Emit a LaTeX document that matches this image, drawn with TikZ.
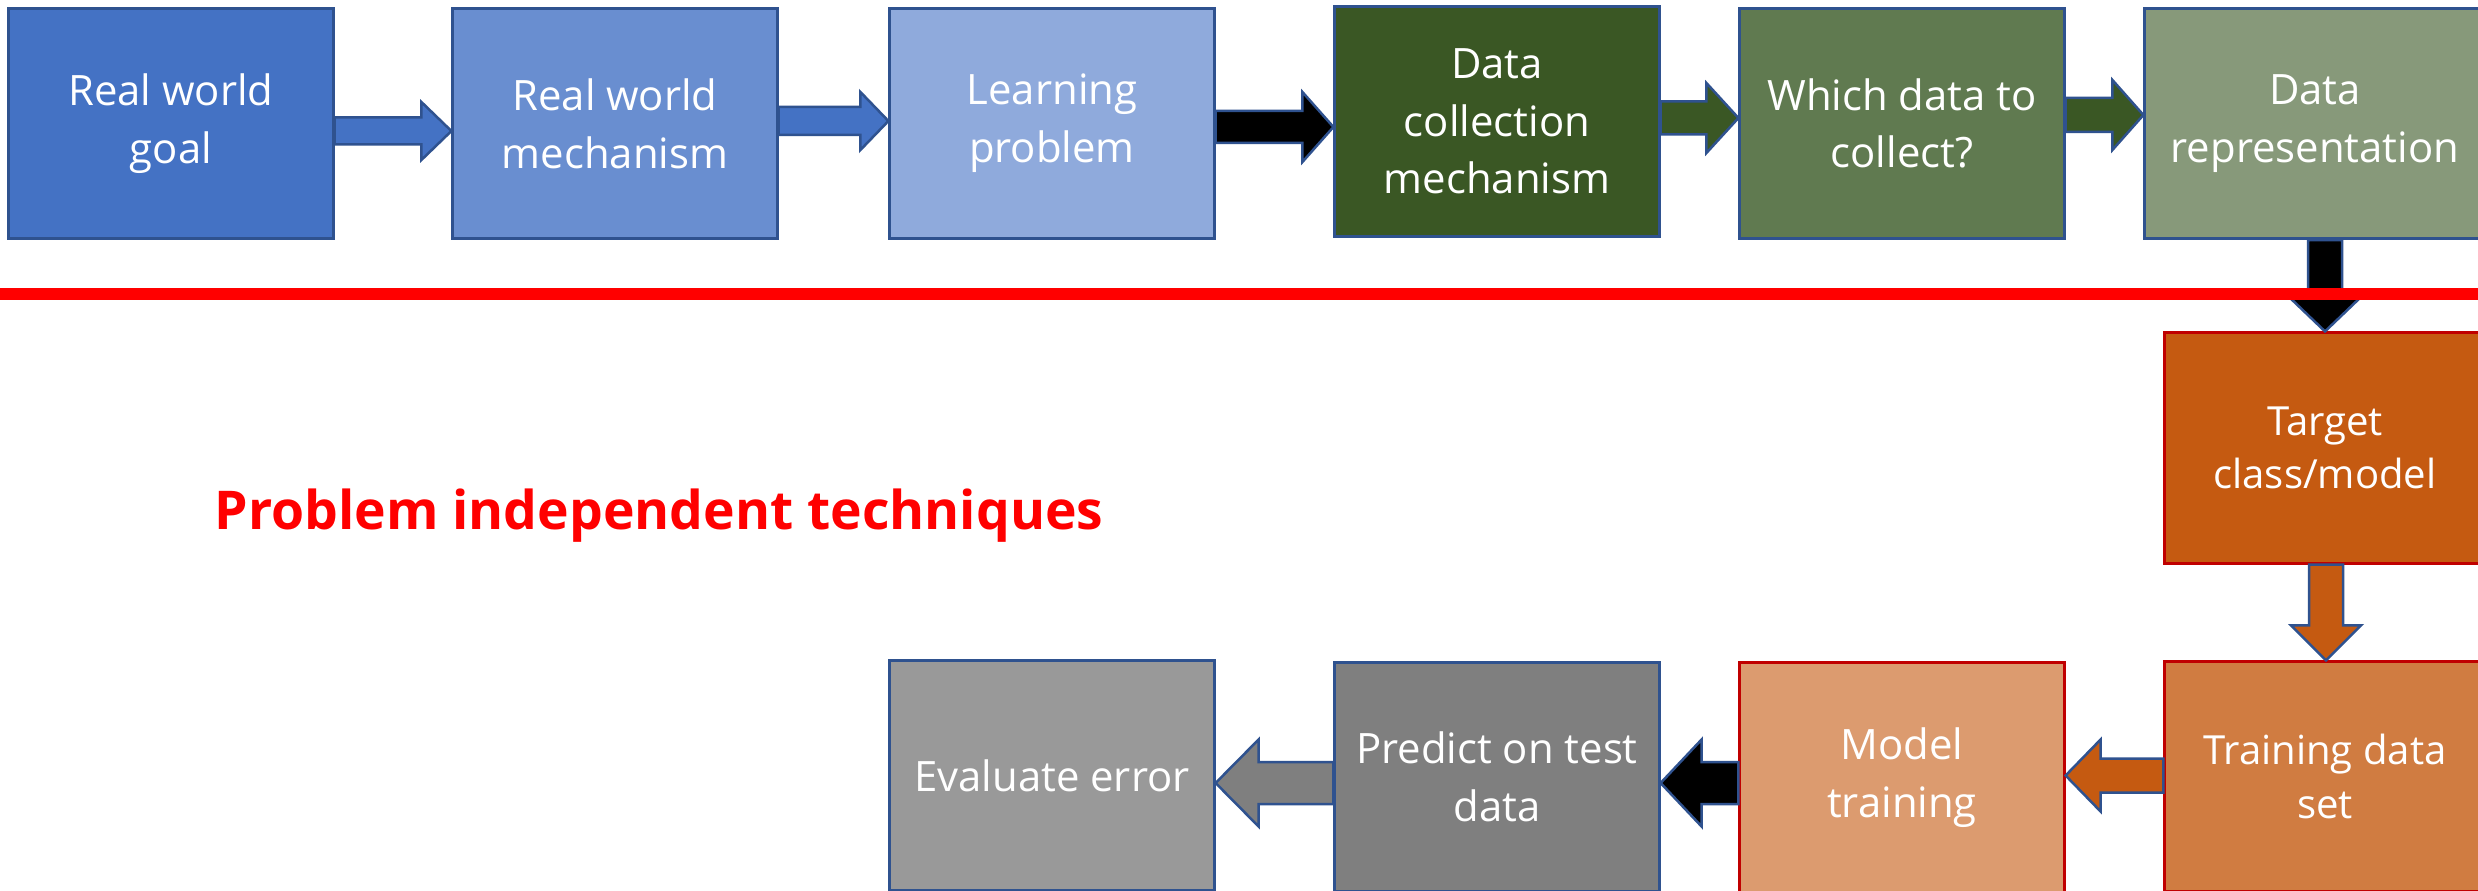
\documentclass[tikz,border=0pt]{standalone}
\usepackage{fontspec}
\setmainfont{Open Sans}
\usetikzlibrary{calc}
\definecolor{blueA}{HTML}{4472C4}
\definecolor{blueB}{HTML}{698ED0}
\definecolor{blueC}{HTML}{8FAADC}
\definecolor{greenA}{HTML}{3A5724}
\definecolor{greenB}{HTML}{607A50}
\definecolor{greenC}{HTML}{87997A}
\definecolor{orangeA}{HTML}{C55A11}
\definecolor{orangeB}{HTML}{D07C41}
\definecolor{peach}{HTML}{DC9B6F}
\definecolor{greyA}{HTML}{7F7F7F}
\definecolor{greyB}{HTML}{999999}
\definecolor{bordblue}{HTML}{2F528F}
\definecolor{bordred}{HTML}{C00000}
\definecolor{pured}{HTML}{FF0000}
\newcommand{\harr}[7]{%
  \draw[arrowline, fill=#7]
    ($(#1 |- 0,#3)+(0,-#5)$) -- ($(#2 |- 0,#3)+({-(#4)},-#5)$) -- ($(#2 |- 0,#3)+({-(#4)},-#6)$) -- (#2 |- 0,#3) -- ($(#2 |- 0,#3)+({-(#4)},#6)$) -- ($(#2 |- 0,#3)+({-(#4)},#5)$) -- ($(#1 |- 0,#3)+(0,#5)$) -- cycle;}
\newcommand{\varr}[7]{%
  \draw[arrowline, fill=#7]
    ($(#3,0 |- #1)+(-#5,0)$) -- ($(#3,0 |- #2)+(-#5,{-(#4)})$) -- ($(#3,0 |- #2)+(-#6,{-(#4)})$) -- (#3,0 |- #2) -- ($(#3,0 |- #2)+(#6,{-(#4)})$) -- ($(#3,0 |- #2)+(#5,{-(#4)})$) -- ($(#3,0 |- #1)+(#5,0)$) -- cycle;}
\begin{document}
\begin{tikzpicture}[x=0.01cm,y=-0.01cm,
  box/.style={draw=bordblue, line width=0.03cm, minimum width=3.24cm, minimum height=2.30cm,
    inner sep=0pt, align=center, text=white, font=\fontsize{11.9pt}{16.4pt}\selectfont},
  rbox/.style={box, draw=bordred},
  sbox/.style={rbox, font=\fontsize{11.4pt}{15.2pt}\selectfont},
  arrowline/.style={draw=bordblue, line width=0.025cm, line join=miter}]
\fill[white] (0,0) rectangle (2478,891);
\useasboundingbox (0,0) rectangle (2478,891);
% top row
\node[box, fill=blueA] (b1) at (171,123.5) {Real world\\goal};
\node[box, fill=blueB] (b2) at (615,123.5) {Real world\\mechanism};
\node[box, fill=blueC] (b3) at (1052,123.5) {Learning\\problem};
\node[box, fill=greenA] (b4) at (1497,121.5) {Data\\collection\\mechanism};
\node[box, fill=greenB] (b5) at (1902,123.5) {Which data to\\collect?};
\node[box, fill=greenC, minimum width=3.40cm] (b6) at (2315,123.5) {Data\\representation};
% right column and bottom row
\node[sbox, fill=orangeA, minimum width=3.20cm] (tc) at (2325,448) {Target\\class/model};
\node[sbox, fill=orangeB, minimum width=3.20cm, minimum height=2.29cm] (tr) at (2325,776.5) {Training data\\set};
\node[rbox, fill=peach, minimum height=2.29cm] (mt) at (1902,777.5) {Model\\training};
\node[box, fill=greyA, minimum height=2.29cm] (pr) at (1497,777) {Predict on test\\data};
\node[box, fill=greyB, minimum height=2.29cm] (ev) at (1052,775.5) {Evaluate error};
\node[text=pured, font=\fontsize{15.2pt}{17pt}\selectfont\bfseries] (pit) at (659,516) {Problem independent techniques};
% arrows
\harr{b1.east}{b2.west}{131}{30}{13.5}{29}{blueA}
\harr{b2.east}{b3.west}{121}{28}{14}{29}{blueA}
\harr{b3.east}{b4.west}{127}{31}{16}{35}{black}
\harr{b4.east}{b5.west}{118}{32}{16.5}{35}{greenA}
\harr{b5.east}{b6.west}{115}{31}{17}{35}{greenA}
\varr{b6.south}{tc.north}{2325}{34}{17}{35.5}{black}
\varr{tc.south}{tr.north}{2326}{35}{17}{35}{orangeA}
\harr{tr.west}{mt.east}{775.5}{-35}{17}{36}{orangeA}
\harr{mt.west}{pr.east}{783}{-41}{21}{43.5}{black}
\harr{pr.west}{ev.east}{783}{-43}{21}{43.5}{greyA}
% separator
\draw[pured, line width=0.11cm] (0,294) -- (2478,294);
\end{tikzpicture}
\end{document}
